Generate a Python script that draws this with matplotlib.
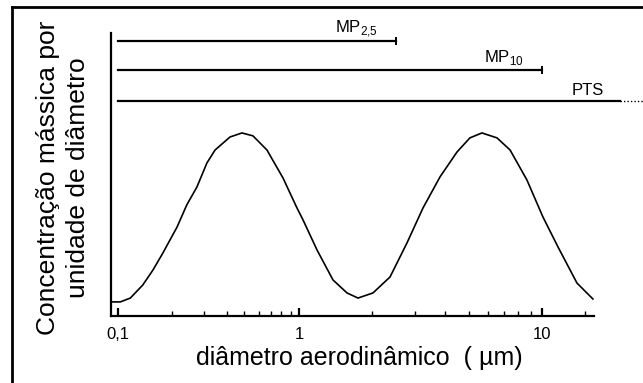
import numpy as np
import matplotlib.pyplot as plt
from matplotlib.lines import Line2D
from matplotlib.ticker import NullFormatter

plt.rcParams['font.family'] = ['Liberation Sans', 'DejaVu Sans']

# diametro aerodinamico (um) e concentracao massica (normalizada)
diam = [0.092, 0.1, 0.103, 0.117, 0.137, 0.156, 0.177, 0.212, 0.240, 0.273, 0.310,
        0.344, 0.416, 0.484, 0.557, 0.665, 0.816, 0.975, 1.039, 1.186, 1.380,
        1.576, 1.749, 2.016, 2.369, 2.782, 3.238, 3.805, 4.47, 5.05, 5.66,
        6.53, 7.39, 8.67, 10.09, 11.64, 13.93, 16.2]
conc = [0.077, 0.077, 0.077, 0.098, 0.169, 0.251, 0.344, 0.486, 0.607, 0.705, 0.836,
        0.907, 0.978, 1.0, 0.984, 0.907, 0.754, 0.590, 0.525, 0.361, 0.197,
        0.126, 0.098, 0.126, 0.213, 0.399, 0.590, 0.760, 0.896, 0.973, 1.0,
        0.973, 0.907, 0.743, 0.541, 0.377, 0.180, 0.093]

# faixas de tamanho
faixa_nome = ['MP', 'MP']
faixa_sub = ['2{,}5', '10']
faixa_fim = [2.5, 10]
faixa_nivel = [1.50, 1.345]
pts_fim = 21
pts_pontos = 26
pts_nivel = 1.175
inicio = 0.1

xticks = [0.1, 1, 10]
xtick_lbl = ['0,1', '1', '10']
minor = [0.2, 0.3, 0.4, 0.5, 0.6, 0.7, 0.8, 0.9, 2, 3, 4, 5, 6, 7, 8, 9, 15]

# a primeira decada do desenho original e mais curta que a segunda
R = 181 / 243


def fwd(x):
    l = np.log10(np.clip(x, 1e-6, None))
    return np.where(l < 0, l * R, l)


def inv(t):
    return np.where(t < 0, 10 ** (t / R), 10 ** t)


fig = plt.figure(figsize=(6.43, 3.83), dpi=100)
ax = fig.add_axes([111 / 643, 67 / 383, 483 / 643, 283 / 383])
ax.set_xscale('function', functions=(fwd, inv))
ax.set_xlim(0.0915, 16.37)
ax.set_ylim(0, 1.546)

ax.plot(diam, conc, color='black', lw=1.2)

for nome, sub, fim, nivel in zip(faixa_nome, faixa_sub, faixa_fim, faixa_nivel):
    ax.plot([inicio, fim], [nivel, nivel], color='black', lw=1.6, clip_on=False)
    ax.plot([fim], [nivel], marker='|', ms=6, mew=1.4, color='black', clip_on=False)
    ax.annotate(nome + r'$_{\mathregular{' + sub + '}}$', xy=(fim, nivel),
                xytext=(-13, 2), textcoords='offset points', ha='right', va='bottom',
                fontsize=12)

ax.plot([inicio, pts_fim], [pts_nivel, pts_nivel], color='black', lw=1.6, clip_on=False)
ax.plot([pts_fim, pts_pontos], [pts_nivel, pts_nivel], color='black', lw=1,
        ls=(0, (1, 1.5)), clip_on=False)
ax.annotate('PTS', xy=(pts_fim, pts_nivel), xytext=(-12, 2), textcoords='offset points',
            ha='right', va='bottom', fontsize=12, annotation_clip=False)

ax.set_xticks(xticks)
ax.set_xticklabels(xtick_lbl)
ax.set_xticks(minor, minor=True)
ax.xaxis.set_minor_formatter(NullFormatter())
ax.set_yticks([])
ax.tick_params(axis='x', which='major', direction='in', length=6, width=1.6,
               labelsize=12, pad=8)
ax.tick_params(axis='x', which='minor', direction='in', length=3.5, width=1)
ax.spines['top'].set_visible(False)
ax.spines['right'].set_visible(False)
ax.spines['left'].set_linewidth(1.6)
ax.spines['bottom'].set_linewidth(1.6)

fig.text(359 / 643, 1 - 358 / 383, 'diâmetro aerodinâmico  ( µm)', ha='center',
         va='center', fontsize=18)
fig.text(63 / 643, 1 - 178 / 383, 'Concentração mássica por\nunidade de diâmetro',
         rotation=90, ha='center', va='center', ma='center', fontsize=19, linespacing=1.3)

# moldura
fig.add_artist(Line2D([12 / 643, 12 / 643], [0, 1 - 7 / 383], transform=fig.transFigure,
                      color='black', lw=2))
fig.add_artist(Line2D([12 / 643, 1], [1 - 7 / 383, 1 - 7 / 383], transform=fig.transFigure,
                      color='black', lw=2))

fig.savefig('out.png', dpi=100)
